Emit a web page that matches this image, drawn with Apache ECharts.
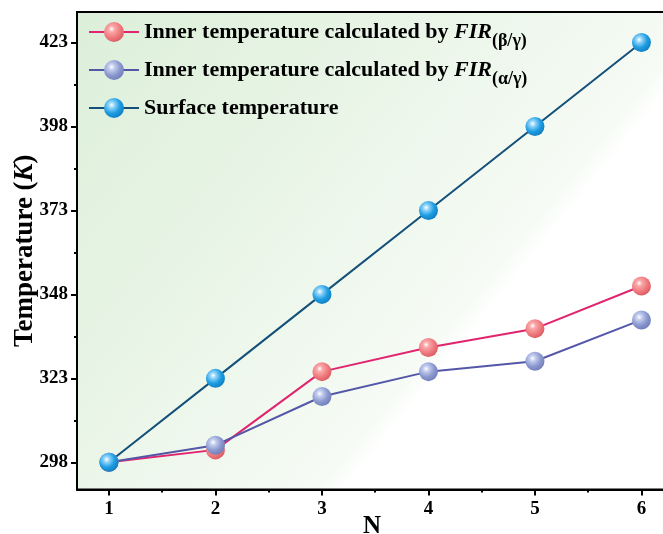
<!DOCTYPE html>
<html>
<head>
<meta charset="utf-8">
<script src="https://cdn.jsdelivr.net/npm/echarts@6/dist/echarts.min.js"></script>
<style>
  html, body { margin: 0; padding: 0; background: #fff; }
  #chart { width: 663px; height: 534px; }
</style>
</head>
<body>
<div id="chart"></div>
<script>
  // data
  var xValues = [1, 2, 3, 4, 5, 6];
  var firBeta = [298, 301.7, 325, 332.2, 337.8, 350.5];
  var firAlpha = [298, 303.1, 317.6, 325, 328.1, 340.4];
  var surface = [298, 323, 348, 373, 398, 423];
  var yTicks = [298, 323, 348, 373, 398, 423];
  var yMinor = [310.5, 335.5, 360.5, 385.5, 410.5];
  var xMinor = [1.5, 2.5, 3.5, 4.5, 5.5];

  var font = '"Liberation Serif", "Times New Roman", serif';

  function pairs(ys) {
    return xValues.map(function (x, i) { return [x, ys[i]]; });
  }

  function sphere(light, base, dark) {
    return new echarts.graphic.RadialGradient(0.38, 0.35, 0.7, [
      { offset: 0, color: '#ffffff' },
      { offset: 0.22, color: light },
      { offset: 0.6, color: base },
      { offset: 1, color: dark }
    ]);
  }

  function makeLine(name, ys, lineColor, ball) {
    return {
      name: name,
      type: 'line',
      data: pairs(ys),
      symbol: 'circle',
      symbolSize: 19,
      lineStyle: { color: lineColor, width: 2 },
      itemStyle: { color: ball, borderWidth: 0 },
      emphasis: { disabled: true }
    };
  }

  // same row height for all legend entries, so the empty subscript on the last one
  var legendText = {
    beta: '{a|Inner temperature calculated by }{i|FIR}{s|(β/γ)}',
    alpha: '{a|Inner temperature calculated by }{i|FIR}{s|(α/γ)}',
    surface: '{a|Surface temperature}{s| }'
  };

  const myChart = echarts.init(document.getElementById('chart'));
  let option = {
    backgroundColor: '#ffffff',
    animation: false,
    grid: {
      left: 77, top: 12, right: -4, bottom: 44.5,
      outerBoundsMode: 'none',
      containLabel: false,
      show: true,
      borderColor: '#000',
      borderWidth: 2,
      backgroundColor: new echarts.graphic.LinearGradient(0, 0, 1, 1, [
        { offset: 0, color: '#dcefd9' },
        { offset: 0.35, color: '#e9f5e7' },
        { offset: 0.64, color: '#f6fbf5' },
        { offset: 0.67, color: '#ffffff' },
        { offset: 1, color: '#ffffff' }
      ])
    },
    legend: {
      orient: 'vertical',
      left: 83,
      top: 9,
      itemWidth: 50,
      itemHeight: 25,
      itemGap: 2,
      selectedMode: false,
      formatter: function (name) { return legendText[name]; },
      textStyle: {
        fontFamily: font,
        rich: {
          a: { fontFamily: font, fontWeight: 'bold', fontSize: 22, color: '#000', lineHeight: 36 },
          i: { fontFamily: font, fontWeight: 'bold', fontStyle: 'italic', fontSize: 22, color: '#000', lineHeight: 36 },
          s: { fontFamily: font, fontWeight: 'bold', fontSize: 18, color: '#000', lineHeight: 18, padding: [18, 0, 0, 0] }
        }
      }
    },
    xAxis: [{
      type: 'value',
      min: 0.7,
      max: 6.24,
      name: 'N',
      nameLocation: 'middle',
      nameGap: 25,
      nameMoveOverlap: false,
      nameTextStyle: { fontFamily: font, fontWeight: 'bold', fontSize: 25, color: '#000' },
      axisLine: { show: true, lineStyle: { color: '#000', width: 2 } },
      axisTick: { show: true, inside: false, length: 6, customValues: xValues, lineStyle: { color: '#000', width: 2 } },
      axisLabel: { customValues: xValues, margin: 10, fontFamily: font, fontWeight: 'bold', fontSize: 19, color: '#000' },
      splitLine: { show: false }
    }, {
      type: 'value',
      position: 'bottom',
      min: 0.7,
      max: 6.24,
      axisLine: { show: false },
      axisTick: { show: true, inside: false, length: 3, customValues: xMinor, lineStyle: { color: '#000', width: 2 } },
      axisLabel: { show: false },
      splitLine: { show: false }
    }],
    yAxis: [{
      type: 'value',
      min: 289.9,
      max: 432.1,
      name: '{b|Temperature (}{k|K}{b|)}',
      nameLocation: 'middle',
      nameGap: 38,
      nameRotate: 90,
      nameMoveOverlap: false,
      nameTextStyle: {
        fontFamily: font, fontWeight: 'bold', fontSize: 27, color: '#000',
        rich: {
          b: { fontFamily: font, fontWeight: 'bold', fontSize: 27, color: '#000' },
          k: { fontFamily: font, fontWeight: 'bold', fontStyle: 'italic', fontSize: 27, color: '#000' }
        }
      },
      axisLine: { show: true, lineStyle: { color: '#000', width: 2 } },
      axisTick: { show: true, inside: false, length: 6, customValues: yTicks, lineStyle: { color: '#000', width: 2 } },
      axisLabel: { customValues: yTicks, margin: 9, fontFamily: font, fontWeight: 'bold', fontSize: 19, color: '#000' },
      splitLine: { show: false }
    }, {
      type: 'value',
      position: 'left',
      min: 289.9,
      max: 432.1,
      axisLine: { show: false },
      axisTick: { show: true, inside: false, length: 3, customValues: yMinor, lineStyle: { color: '#000', width: 2 } },
      axisLabel: { show: false },
      splitLine: { show: false }
    }],
    series: [
      makeLine('beta', firBeta, '#e0246e', sphere('#f9a8aa', '#f07c80', '#d85a60')),
      makeLine('alpha', firAlpha, '#5457a8', sphere('#c4cdef', '#8c9acf', '#6f7cb8')),
      makeLine('surface', surface, '#14507a', sphere('#8fd3fa', '#1e9de2', '#0f7cc0'))
    ]
  };
  myChart.setOption(option);
</script>
</body>
</html>
